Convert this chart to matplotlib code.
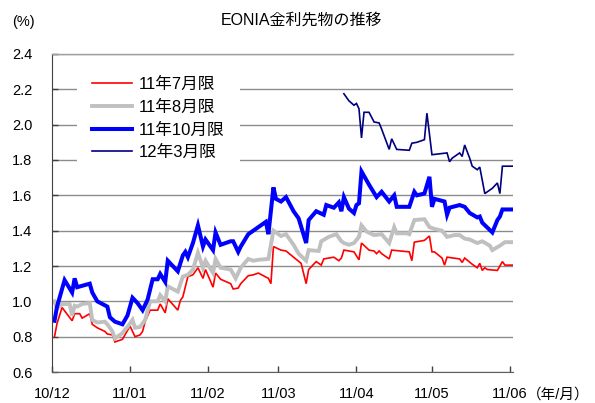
import numpy as np
import pandas as pd
import matplotlib
matplotlib.use("Agg")
import matplotlib.pyplot as plt
import matplotlib.dates as mdates

plt.rcParams['font.family'] = ['Liberation Sans', 'Noto Sans CJK JP', 'DejaVu Sans']

# 11年7月限
jul_dates = ["12-02", "12-03", "12-05", "12-09", "12-10", "12-12", "12-13", "12-16", "12-17", "12-19",
             "12-22", "12-23", "12-25", "12-26", "12-29", "12-30", "01-01", "01-03", "01-05", "01-06",
             "01-07", "01-09", "01-12", "01-13", "01-15", "01-16", "01-20", "01-21", "01-22", "01-24",
             "01-26", "01-28", "01-30", "01-31", "02-03", "02-04", "02-06", "02-10", "02-11", "02-13",
             "02-14", "02-17", "02-19", "02-21", "02-25", "02-26", "02-27", "03-02", "03-04", "03-07",
             "03-10", "03-12", "03-13", "03-16", "03-18", "03-19", "03-23", "03-25", "03-26", "03-27",
             "03-31", "04-02", "04-03", "04-06", "04-08", "04-09", "04-10", "04-11", "04-14", "04-15",
             "04-22", "04-23", "04-24", "04-28", "04-30", "05-01", "05-02", "05-05", "05-06", "05-07",
             "05-12", "05-13", "05-14", "05-17", "05-19", "05-20", "05-21", "05-22", "05-23", "05-27",
             "05-29", "05-30", "06-02"]
jul_values = [0.80, 0.875, 0.965, 0.89, 0.93, 0.93, 0.905, 0.93, 0.87, 0.85,
              0.83, 0.815, 0.81, 0.77, 0.785, 0.81, 0.86, 0.80, 0.81, 0.83,
              0.885, 0.95, 0.95, 0.985, 0.935, 1.015, 0.95, 1.005, 1.025, 1.14,
              1.15, 1.19, 1.13, 1.18, 1.08, 1.16, 1.125, 1.10, 1.07, 1.075,
              1.10, 1.145, 1.15, 1.16, 1.13, 1.10, 1.31, 1.29, 1.285, 1.25,
              1.215, 1.10, 1.18, 1.225, 1.205, 1.24, 1.25, 1.23, 1.245, 1.29,
              1.28, 1.235, 1.33, 1.29, 1.285, 1.27, 1.285, 1.27, 1.24, 1.29,
              1.28, 1.23, 1.335, 1.345, 1.37, 1.28, 1.28, 1.245, 1.205, 1.25,
              1.24, 1.22, 1.245, 1.21, 1.19, 1.215, 1.175, 1.19, 1.18, 1.175,
              1.225, 1.205, 1.205]

# 11年8月限
aug_dates = ["12-02", "12-03", "12-05", "12-08", "12-09", "12-10", "12-11", "12-13", "12-16", "12-17",
             "12-19", "12-22", "12-23", "12-25", "12-26", "12-29", "12-30", "12-31", "01-02", "01-03",
             "01-05", "01-07", "01-09", "01-12", "01-13", "01-15", "01-16", "01-20", "01-22", "01-24",
             "01-26", "01-28", "01-30", "01-31", "02-03", "02-04", "02-06", "02-10", "02-12", "02-14",
             "02-17", "02-19", "02-21", "02-25", "02-27", "03-02", "03-04", "03-07", "03-09", "03-12",
             "03-13", "03-17", "03-18", "03-21", "03-24", "03-26", "03-27", "03-29", "03-31", "04-02",
             "04-03", "04-05", "04-08", "04-11", "04-14", "04-16", "04-17", "04-21", "04-22", "04-24",
             "04-28", "04-30", "05-02", "05-05", "05-07", "05-10", "05-12", "05-14", "05-16", "05-19",
             "05-21", "05-24", "05-25", "05-28", "05-30", "06-02"]
aug_values = [1.00, 0.96, 0.985, 0.985, 0.92, 0.975, 0.97, 0.985, 0.99, 0.895,
              0.88, 0.885, 0.87, 0.83, 0.79, 0.82, 0.84, 0.855, 0.895, 0.85,
              0.855, 0.895, 1.00, 1.00, 1.035, 1.00, 1.085, 1.055, 1.14, 1.15,
              1.18, 1.275, 1.19, 1.23, 1.16, 1.24, 1.19, 1.18, 1.13, 1.19,
              1.24, 1.23, 1.235, 1.24, 1.40, 1.37, 1.38, 1.32, 1.27, 1.23,
              1.29, 1.285, 1.34, 1.365, 1.38, 1.34, 1.33, 1.32, 1.33, 1.365,
              1.43, 1.395, 1.375, 1.38, 1.33, 1.42, 1.385, 1.385, 1.38, 1.46,
              1.465, 1.42, 1.41, 1.40, 1.365, 1.375, 1.375, 1.355, 1.35, 1.33,
              1.34, 1.315, 1.29, 1.315, 1.335, 1.335]

# 11年10月限
oct_dates = ["12-02", "12-03", "12-06", "12-09", "12-10", "12-11", "12-16", "12-17", "12-19", "12-23",
             "12-24", "12-26", "12-29", "12-31", "01-02", "01-04", "01-06", "01-08", "01-10", "01-12",
             "01-13", "01-15", "01-16", "01-20", "01-22", "01-23", "01-24", "01-26", "01-28", "01-30",
             "01-31", "02-03", "02-04", "02-06", "02-10", "02-11", "02-13", "02-14", "02-17", "02-20",
             "02-24", "02-25", "02-27", "02-28", "03-02", "03-04", "03-07", "03-09", "03-12", "03-13",
             "03-16", "03-19", "03-20", "03-23", "03-25", "03-26", "03-27", "03-29", "03-31", "04-01",
             "04-02", "04-03", "04-06", "04-09", "04-11", "04-14", "04-16", "04-17", "04-22", "04-24",
             "04-25", "04-28", "04-30", "05-01", "05-02", "05-06", "05-07", "05-08", "05-12", "05-14",
             "05-16", "05-19", "05-20", "05-21", "05-25", "05-27", "05-28", "05-29", "06-02"]
oct_values = [0.89, 0.97, 1.12, 1.05, 1.13, 1.08, 1.10, 1.05, 1.00, 0.97,
              0.91, 0.885, 0.87, 0.92, 1.02, 0.99, 0.95, 1.01, 1.125, 1.125,
              1.155, 1.11, 1.23, 1.17, 1.26, 1.28, 1.25, 1.33, 1.43, 1.31,
              1.35, 1.29, 1.39, 1.32, 1.34, 1.34, 1.28, 1.31, 1.38, 1.41,
              1.45, 1.38, 1.645, 1.58, 1.565, 1.59, 1.51, 1.47, 1.33, 1.46,
              1.51, 1.49, 1.545, 1.53, 1.56, 1.51, 1.59, 1.525, 1.50, 1.545,
              1.555, 1.735, 1.66, 1.59, 1.62, 1.565, 1.60, 1.535, 1.535, 1.62,
              1.60, 1.61, 1.705, 1.535, 1.58, 1.565, 1.49, 1.53, 1.545, 1.535,
              1.50, 1.475, 1.48, 1.445, 1.39, 1.46, 1.48, 1.52, 1.52]

# 12年3月限
mar_dates = ["03-27", "03-29", "03-31", "04-01", "04-02", "04-03", "04-04", "04-06", "04-08", "04-10",
             "04-11", "04-14", "04-15", "04-17", "04-22", "04-23", "04-25", "04-28", "04-29", "05-01",
             "05-04", "05-07", "05-08", "05-09", "05-12", "05-13", "05-14", "05-16", "05-17", "05-19",
             "05-20", "05-22", "05-25", "05-27", "05-28", "05-29", "06-02"]
mar_values = [2.175, 2.135, 2.11, 2.12, 2.09, 1.925, 2.07, 2.07, 2.015, 2.01,
              1.975, 1.86, 1.92, 1.86, 1.855, 1.895, 1.90, 1.915, 2.065, 1.83,
              1.835, 1.84, 1.79, 1.81, 1.84, 1.82, 1.885, 1.81, 1.765, 1.745,
              1.76, 1.61, 1.64, 1.67, 1.61, 1.765, 1.765]

series_labels = ["11年7月限", "11年8月限", "11年10月限", "12年3月限"]
y_ticks = [0.6, 0.8, 1.0, 1.2, 1.4, 1.6, 1.8, 2.0, 2.2, 2.4]


def to_dates(md_list):
    # December belongs to 2010, everything else to 2011
    return pd.to_datetime([("2010-" if md.startswith("12") else "2011-") + md for md in md_list])


fig = plt.figure(figsize=(5.95, 4.03), dpi=100)
ax = fig.add_axes([52 / 595, 31 / 403, 461 / 595, 318 / 403])

styles = [
    dict(color="#FF0000", lw=1.2),
    dict(color="#C0C0C0", lw=2.8),
    dict(color="#0000FF", lw=2.9),
    dict(color="#000080", lw=1.2),
]
for (d, v), lab, st in zip([(jul_dates, jul_values), (aug_dates, aug_values),
                            (oct_dates, oct_values), (mar_dates, mar_values)],
                           series_labels, styles):
    ax.plot(to_dates(d), v, label=lab, solid_joinstyle="miter", **st)

ax.set_ylim(0.6, 2.4)
ax.set_yticks(y_ticks)
ax.set_yticklabels([f"{t:.1f}" for t in y_ticks])
ax.set_xlim(pd.Timestamp("2010-12-01"), pd.Timestamp("2011-06-02 05:00"))
ax.xaxis.set_major_locator(mdates.MonthLocator())
ax.xaxis.set_major_formatter(mdates.DateFormatter("%y/%m"))

ax.yaxis.grid(True, color="#8c8c8c", lw=1.0)
ax.set_axisbelow(True)
ax.spines["right"].set_visible(False)
ax.spines["top"].set_color("#a0a0a0")
ax.spines["top"].set_linewidth(1.0)
ax.spines["left"].set_color("#404040")
ax.spines["bottom"].set_color("#606060")
ax.tick_params(axis="both", direction="in", length=4, width=1, colors="#404040",
               labelcolor="black", labelsize=10.5)
ax.tick_params(axis="y", pad=14)
ax.tick_params(axis="x", pad=11)

leg = ax.legend(loc="upper left", bbox_to_anchor=(0.055, 0.975), fontsize=12,
                frameon=True, fancybox=False, edgecolor="none", facecolor="white",
                framealpha=1, handlelength=2.4, handletextpad=0.4, labelspacing=0.45,
                borderpad=0.9, borderaxespad=0)

fig.text(301 / 595, 1 - 20 / 403, "EONIA金利先物の推移", ha="center", va="center", fontsize=11.5)
fig.text(23 / 595, 1 - 22 / 403, "(%)", ha="center", va="center", fontsize=10.5)
fig.text(527 / 595, 1 - 395 / 403, "（年/月）", ha="left", va="center", fontsize=10.5)

fig.savefig("out.png", dpi=100)
